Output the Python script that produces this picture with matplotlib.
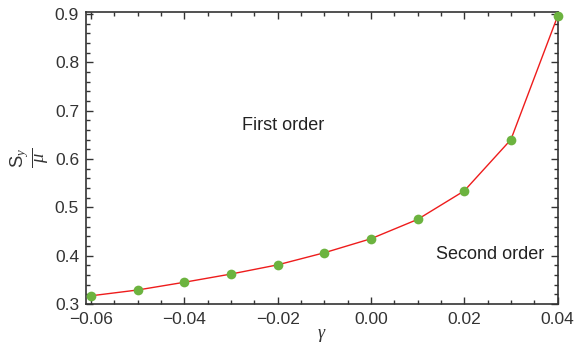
import numpy as np
import matplotlib
matplotlib.use("Agg")
from matplotlib import pyplot as plt
from matplotlib.ticker import MultipleLocator

plt.rcParams['font.family'] = ['Liberation Sans', 'DejaVu Sans']
plt.rcParams['mathtext.fontset'] = 'custom'
plt.rcParams['mathtext.rm'] = 'Liberation Sans'
plt.rcParams['mathtext.it'] = 'Liberation Serif:italic'

# critical ratio vs gamma
gamma = [-0.06, -0.05, -0.04, -0.03, -0.02, -0.01, 0.00, 0.01, 0.02, 0.03, 0.04]
sy_mu = [0.317, 0.329, 0.345, 0.362, 0.381, 0.406, 0.435, 0.475, 0.534, 0.640, 0.895]

dark = '#333333'

fig = plt.figure(figsize=(5.75, 3.48), dpi=100)
ax = fig.add_axes([86/575, 1 - 304/348, (558 - 86)/575, (304 - 12)/348])

ax.plot(gamma, sy_mu, color='#ee1c1c', lw=1.0, zorder=2)
ax.plot(gamma, sy_mu, 'o', color='#6cb33f', ms=7, mec='none', zorder=3, clip_on=False)

ax.set_xlim(-0.0611, 0.0401)
ax.set_ylim(0.3, 0.904)

ax.xaxis.set_major_locator(MultipleLocator(0.02))
ax.xaxis.set_minor_locator(MultipleLocator(0.005))
ax.yaxis.set_major_locator(MultipleLocator(0.1))
ax.yaxis.set_minor_locator(MultipleLocator(0.02))
ax.xaxis.set_major_formatter(plt.FuncFormatter(lambda v, p: ('%.2f' % v).replace('-', '\u2212')))
ax.yaxis.set_major_formatter(plt.FuncFormatter(lambda v, p: '%.1f' % v))

ax.tick_params(which='both', direction='in', top=True, right=True, colors=dark,
               labelsize=12.5, width=1)
ax.tick_params(axis='x', pad=6)
ax.tick_params(axis='y', pad=5)
ax.tick_params(which='major', length=5)
ax.tick_params(which='minor', length=3)
for s in ax.spines.values():
    s.set_color(dark)
    s.set_linewidth(1.2)

ax.set_xlabel(r'$\gamma$', fontsize=13, color=dark, labelpad=0)
ax.set_ylabel(r'$\frac{\mathrm{S}_y}{\mu}$', fontsize=19, color=dark, labelpad=2)

ax.text(-0.0189, 0.669, 'First order', fontsize=13, color='#222222', ha='center', va='center')
ax.text(0.0255, 0.402, 'Second order', fontsize=13, color='#222222', ha='center', va='center')

plt.savefig('out.png', dpi=100)
